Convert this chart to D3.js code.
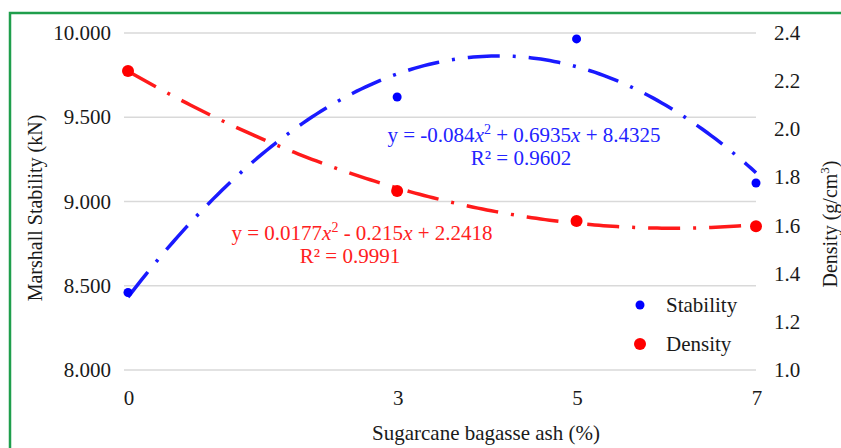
<!DOCTYPE html>
<html>
<head>
<meta charset="utf-8">
<script src="https://cdn.jsdelivr.net/npm/d3@7"></script>
<style>
  body { margin: 0; background: #fff; }
  text { font-family: "Liberation Serif", "Times New Roman", serif; }
</style>
</head>
<body>
<div id="chart"></div>
<script>
// data
const ash_percent = [0, 3, 5, 7];
const stability = [8.46, 9.62, 9.965, 9.11];
const density = [2.242, 1.744, 1.619, 1.597];

// trendline coefficients (a x^2 + b x + c) as printed on the chart
const stability_fit = [-0.084, 0.6935, 8.4325];
const density_fit = [0.0177, -0.215, 2.2418];

const x_ticks = [0, 3, 5, 7];
const left_ticks = [8.0, 8.5, 9.0, 9.5, 10.0];
const right_ticks = [1.0, 1.2, 1.4, 1.6, 1.8, 2.0, 2.2, 2.4];

const width = 841;
const height = 448;
const plot = { left: 128, right: 756, top: 33, bottom: 370 };
const font_size = "21px";

const svg = d3.select("#chart")
    .append("svg")
    .attr("width", width)
    .attr("height", height);

// green frame
svg.append("rect")
    .attr("x", 10)
    .attr("y", 13)
    .attr("width", width)
    .attr("height", height)
    .attr("fill", "none")
    .attr("stroke", "#1f9e4c")
    .attr("stroke-width", 2.5);

const x = d3.scaleLinear().domain([0, 7]).range([plot.left, plot.right]);
const yLeft = d3.scaleLinear().domain([8, 10]).range([plot.bottom, plot.top]);
const yRight = d3.scaleLinear().domain([1, 2.4]).range([plot.bottom, plot.top]);

// gridlines
svg.append("g")
    .selectAll("line")
    .data(left_ticks)
    .enter()
    .append("line")
    .attr("x1", plot.left - 4)
    .attr("x2", plot.right)
    .attr("y1", d => yLeft(d))
    .attr("y2", d => yLeft(d))
    .attr("stroke", "#d9d9d9")
    .attr("stroke-width", 1.3);

// left axis labels
svg.append("g")
    .selectAll("text")
    .data(left_ticks)
    .enter()
    .append("text")
    .attr("x", 111)
    .attr("y", d => yLeft(d) + 7)
    .attr("text-anchor", "end")
    .attr("font-size", font_size)
    .attr("fill", "#1a1a1a")
    .text(d => d3.format(".3f")(d));

// right axis labels
svg.append("g")
    .selectAll("text")
    .data(right_ticks)
    .enter()
    .append("text")
    .attr("x", 774)
    .attr("y", d => yRight(d) + 7)
    .attr("text-anchor", "start")
    .attr("font-size", font_size)
    .attr("fill", "#1a1a1a")
    .text(d => d3.format(".1f")(d));

// x axis labels
svg.append("g")
    .selectAll("text")
    .data(x_ticks)
    .enter()
    .append("text")
    .attr("x", d => x(d) + 1)
    .attr("y", 405)
    .attr("text-anchor", "middle")
    .attr("font-size", font_size)
    .attr("fill", "#1a1a1a")
    .text(d => d);

// axis titles
svg.append("text")
    .attr("x", 486)
    .attr("y", 440)
    .attr("text-anchor", "middle")
    .attr("font-size", font_size)
    .attr("fill", "#1a1a1a")
    .text("Sugarcane bagasse ash (%)");

svg.append("text")
    .attr("transform", "translate(42,208) rotate(-90)")
    .attr("text-anchor", "middle")
    .attr("font-size", "20px")
    .attr("fill", "#1a1a1a")
    .text("Marshall Stability (kN)");

const dens_title = svg.append("text")
    .attr("transform", "translate(837,224) rotate(-90)")
    .attr("text-anchor", "middle")
    .attr("font-size", "20px")
    .attr("fill", "#1a1a1a");
dens_title.append("tspan").text("Density (g/cm");
dens_title.append("tspan").attr("font-size", "13px").attr("dy", -8).text("3");
dens_title.append("tspan").attr("dy", 8).text(")");

// trendlines
const xs = d3.range(0, 7.001, 0.05);
const poly = (c, v) => c[0] * v * v + c[1] * v + c[2];

svg.append("path")
    .datum(xs)
    .attr("fill", "none")
    .attr("stroke", "#1a1aff")
    .attr("stroke-width", 3.5)
    .attr("stroke-dasharray", "32,13,3,13")
    .attr("d", d3.line().x(d => x(d)).y(d => yLeft(poly(stability_fit, d))));

svg.append("path")
    .datum(xs)
    .attr("fill", "none")
    .attr("stroke", "#ff1a1a")
    .attr("stroke-width", 3.5)
    .attr("stroke-dasharray", "32,13,3,13")
    .attr("d", d3.line().x(d => x(d)).y(d => yRight(poly(density_fit, d))));

// points
svg.append("g")
    .selectAll("circle")
    .data(ash_percent)
    .enter()
    .append("circle")
    .attr("cx", d => x(d))
    .attr("cy", (d, i) => yLeft(stability[i]))
    .attr("r", 4.5)
    .attr("fill", "#0000ff");

svg.append("g")
    .selectAll("circle")
    .data(ash_percent)
    .enter()
    .append("circle")
    .attr("cx", d => x(d))
    .attr("cy", (d, i) => yRight(density[i]))
    .attr("r", 6)
    .attr("fill", "#ff0000");

// equation labels
function equation(xc, y, color, parts) {
    const t = svg.append("text")
        .attr("x", xc)
        .attr("y", y)
        .attr("text-anchor", "middle")
        .attr("font-size", font_size)
        .attr("fill", color);
    parts.forEach(p => {
        const s = t.append("tspan").text(p.t);
        if (p.i) s.attr("font-style", "italic");
        if (p.sup) s.attr("font-size", "14px").attr("dy", -8);
        if (p.down) s.attr("dy", 8);
    });
}

equation(524, 142, "#2323ff", [
    { t: "y = -0.084" }, { t: "x", i: true }, { t: "2", sup: true },
    { t: " + 0.6935", down: true }, { t: "x", i: true }, { t: " + 8.4325" }
]);
equation(521, 165, "#2323ff", [{ t: "R² = 0.9602" }]);

equation(362, 240, "#ff2020", [
    { t: "y = 0.0177" }, { t: "x", i: true }, { t: "2", sup: true },
    { t: " - 0.215", down: true }, { t: "x", i: true }, { t: " + 2.2418" }
]);
equation(350, 263, "#ff2020", [{ t: "R² = 0.9991" }]);

// legend
const legend_items = [
    { name: "Stability", color: "#0000ff", r: 4.5 },
    { name: "Density", color: "#ff0000", r: 6 }
];
const legend = svg.append("g")
    .selectAll("g")
    .data(legend_items)
    .enter()
    .append("g")
    .attr("transform", (d, i) => "translate(640," + (305 + i * 39) + ")");
legend.append("circle")
    .attr("r", d => d.r)
    .attr("fill", d => d.color);
legend.append("text")
    .attr("x", 26)
    .attr("y", 7)
    .attr("font-size", font_size)
    .attr("fill", "#1a1a1a")
    .text(d => d.name);
</script>
</body>
</html>
